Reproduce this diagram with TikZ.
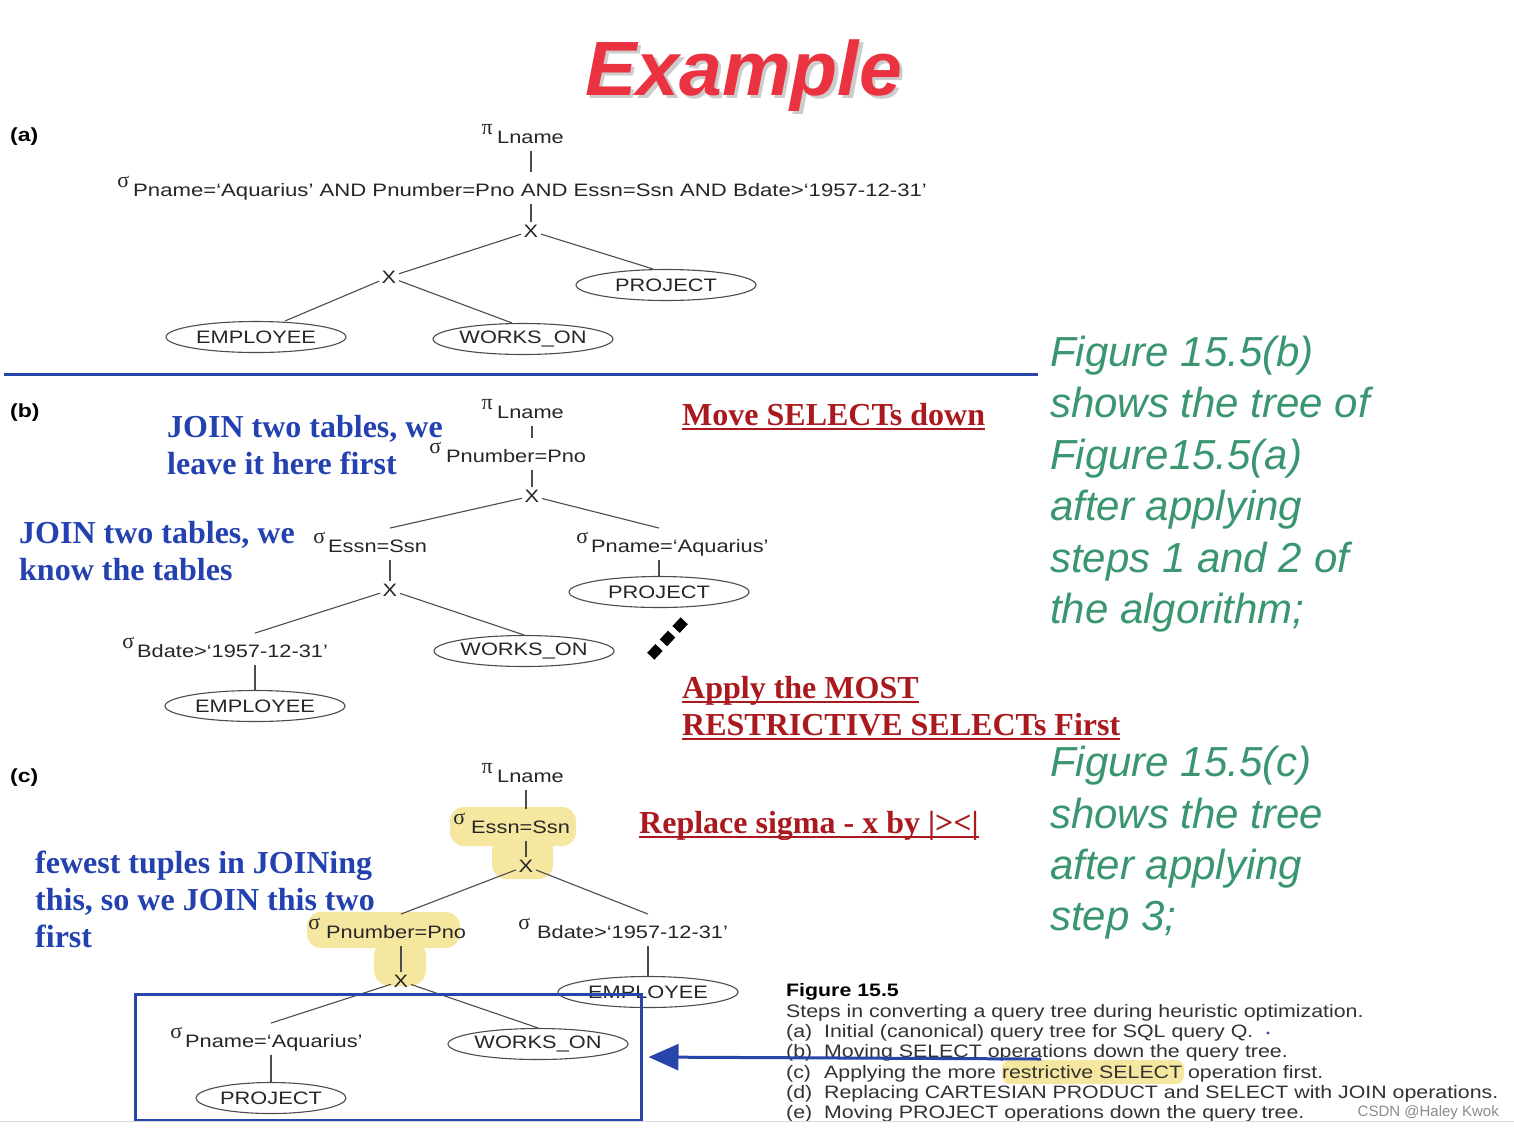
\documentclass[tikz,border=0pt]{standalone}
\usepackage{fontspec}
\usetikzlibrary{arrows.meta,shapes.geometric,calc}
\newfontfamily\treefont[FakeStretch=1.21]{Liberation Sans}
\newfontfamily\longfont[FakeStretch=1.23]{Liberation Sans}
\newfontfamily\capfont[FakeStretch=1.185]{Liberation Sans}
\newfontfamily\arialf{Liberation Sans}
\newfontfamily\timesf{Liberation Serif}
\newcommand\symfnt{\timesf\fontsize{22}{22}\selectfont}
\newcommand\sgm[1]{\llap{\raisebox{9pt}{\symfnt σ}\hspace{#1}}}
\newcommand\pim[1]{\llap{\raisebox{9pt}{\symfnt π}\hspace{#1}}}
\definecolor{titlered}{RGB}{235,50,65}
\definecolor{noteblue}{RGB}{35,65,175}
\definecolor{notered}{RGB}{170,25,30}
\definecolor{figgreen}{RGB}{58,150,112}
\definecolor{lineblue}{RGB}{40,70,170}
\definecolor{hilite}{RGB}{246,231,160}
\definecolor{captext}{RGB}{50,50,50}
\begin{document}
\begin{tikzpicture}[x=1pt,y=-1pt,
  treefnt/.style={font=\treefont\fontsize{18}{20}\selectfont, text=black!85},
  tree/.style={treefnt, inner xsep=0pt, inner ysep=4pt, text depth=3pt, anchor=base west},
  xop/.style={treefnt, inner sep=2.5pt},
  tbl/.style={treefnt, ellipse, draw=black!70, line width=1.1pt, minimum width=180pt, minimum height=31pt, inner sep=0pt},
  edge/.style={draw=black!70, line width=1.1pt},
  partlab/.style={font=\treefont\bfseries\fontsize{19}{20}\selectfont, anchor=base west, inner sep=0pt},
  bluenote/.style={font=\timesf\bfseries\fontsize{32}{37}\selectfont, text=noteblue, anchor=base west, inner sep=0pt},
  rednote/.style={font=\timesf\bfseries\fontsize{32}{37}\selectfont, text=notered, anchor=base west, inner sep=0pt},
  redline/.style={draw=notered, line width=2.2pt},
  greennote/.style={font=\arialf\itshape\fontsize{42}{50}\selectfont, text=figgreen, anchor=base west, inner sep=0pt},
  captxt/.style={font=\capfont\fontsize{18}{20}\selectfont, text=captext, anchor=base west, inner sep=0pt},
  hl/.style={fill=hilite, rounded corners=14pt},
  bluebar/.style={draw=lineblue, line width=3pt}
]
\useasboundingbox[fill=white] (0,0) rectangle (1514,1128);

% ---------- title ----------
\node[font=\arialf\bfseries\itshape\fontsize{77}{80}\selectfont, text=black, opacity=0.2, anchor=base west, inner sep=0pt] (titleshadow) at (588.5,98.5) {Example};
\node[font=\arialf\bfseries\itshape\fontsize{77}{80}\selectfont, text=titlered, anchor=base west, inner sep=0pt] (title) at (585,95) {Example};

% ---------- highlights ----------
\fill[hl] (450,807) rectangle (576,846);
\fill[hl] (492,836) rectangle (553,879);
\fill[hl] (307,912) rectangle (460,948);
\fill[hl, rounded corners=16pt] (374,940) rectangle (426,986);
\fill[hilite, rounded corners=8pt] (1002,1060) rectangle (1184,1084);

% ---------- (a) ----------
\node[partlab] (la) at (10,141) {(a)};
\node[tree] (pia) at (497,143.5) {\pim{4.5pt}Lname};
\node[tree, font=\longfont\fontsize{18}{20}\selectfont] (siga) at (133,196.5) {\sgm{4pt}Pname=‘Aquarius’ AND Pnumber=Pno AND Essn=Ssn AND Bdate>‘1957-12-31’};
\node[xop] (xa1) at (531,231) {X};
\node[xop] (xa2) at (389,277) {X};
\node[tbl] (proja) at (666,285) {PROJECT};
\node[tbl] (empa) at (256,337) {EMPLOYEE};
\node[tbl] (worksa) at (523,339) {WORKS\_ON};
\draw[edge] (pia.south -| xa1) -- (siga.north -| xa1);
\draw[edge] (siga.south -| xa1) -- (xa1);
\draw[edge] (xa1) -- (xa2);
\draw[edge] (xa1) -- ([xshift=-13pt]proja.north);
\draw[edge] (xa2) -- ([xshift=29pt]empa.north);
\draw[edge] (xa2) -- ([xshift=-11pt]worksa.north);

% divider
\coordinate (divL) at (4,374);
\coordinate (divR) at (1038,374);
\draw[bluebar] (divL) -- (divR);

% ---------- (b) ----------
\node[partlab] (lb) at (10,417) {(b)};
\node[tree] (pib) at (497,418.5) {\pim{4.5pt}Lname};
\node[tree] (sPnum) at (446,462.5) {\sgm{5pt}Pnumber=Pno};
\node[xop] (xb1) at (532,496) {X};
\node[tree] (sEssn) at (328,552.5) {\sgm{3pt}Essn=Ssn};
\node[tree] (sPname) at (591,552.5) {\sgm{3pt}Pname=‘Aquarius’};
\node[xop] (xb2) at (390,590) {X};
\node[tbl] (projb) at (659,592) {PROJECT};
\node[tree] (sBdate) at (137,657.5) {\sgm{3pt}Bdate>‘1957-12-31’};
\node[tbl] (worksb) at (524,651) {WORKS\_ON};
\node[tbl] (empb) at (255,706) {EMPLOYEE};
\draw[edge] (pib.south -| xb1) -- (sPnum.north -| xb1);
\draw[edge] (sPnum.south -| xb1) -- (xb1);
\draw[edge] (xb1) -- (xb2 |- sEssn.north);
\draw[edge] (xb1) -- (projb |- sPname.north);
\draw[edge] (sEssn.south -| xb2) -- (xb2);
\draw[edge] (sPname.south -| projb) -- (projb);
\draw[edge] (xb2) -- (empb |- sBdate.north);
\draw[edge] (xb2) -- (worksb.north);
\draw[edge] (sBdate.south -| empb) -- (empb);

% dotted diamonds
\coordinate (dotA) at (650.8,656.2);
\coordinate (dotB) at (684.2,620.8);
\draw[line width=10pt, dash pattern=on 12pt off 6.4pt] (dotA) -- (dotB);

% ---------- (c) ----------
\node[partlab] (lc) at (10,782) {(c)};
\node[tree] (pic) at (497,782.5) {\pim{4.5pt}Lname};
\node[tree] (sEssnc) at (471,833.5) {\sgm{6pt}Essn=Ssn};
\node[xop] (xc1) at (526,866) {X};
\node[tree] (sPnumc) at (326,938.5) {\sgm{6pt}Pnumber=Pno};
\node[tree] (sBdatec) at (537,938.5) {\sgm{7pt}Bdate>‘1957-12-31’};
\node[xop] (xc2) at (401,981) {X};
\node[tbl] (empc) at (648,992) {EMPLOYEE};
\node[tree] (sPnamec) at (185,1047.5) {\sgm{3pt}Pname=‘Aquarius’};
\node[tbl] (worksc) at (538,1044) {WORKS\_ON};
\node[tbl, minimum width=150pt] (projc) at (271,1098) {PROJECT};
\draw[edge] (pic.south -| xc1) -- (sEssnc.north -| xc1);
\draw[edge] (sEssnc.south -| xc1) -- (xc1);
\draw[edge] (xc1) -- (xc2 |- sPnumc.north);
\draw[edge] (xc1) -- (empc |- sBdatec.north);
\draw[edge] (sPnumc.south -| xc2) -- (xc2);
\draw[edge] (sBdatec.south -| empc) -- (empc);
\draw[edge] (xc2) -- (projc |- sPnamec.north);
\draw[edge] (xc2) -- (worksc.north);
\draw[edge] (sPnamec.south -| projc) -- (projc);

% ---------- blue notes ----------
\node[bluenote] (nb1) at (167,437) {JOIN two tables, we};
\node[bluenote] (nb2) at (167,474) {leave it here first};
\node[bluenote] (nb3) at (19,543) {JOIN two tables, we};
\node[bluenote] (nb4) at (19,580) {know the tables};
\node[bluenote] (nc1) at (35,873) {fewest tuples in JOINing};
\node[bluenote] (nc2) at (35,910) {this, so we JOIN this two};
\node[bluenote] (nc3) at (35,947) {first};

% ---------- red notes ----------
\node[rednote] (r1) at (682,425) {Move SELECTs down};
\node[rednote] (r2) at (682,698) {Apply the MOST};
\node[rednote] (r3) at (682,735) {RESTRICTIVE SELECTs First};
\node[rednote] (r4) at (639,833) {Replace sigma - x by |><|};
\foreach \n in {r1,r2,r3,r4}
  \draw[redline] ([yshift=-4pt]\n.base west) -- ([yshift=-4pt]\n.base east);

% ---------- green notes ----------
\node[greennote] (g1) at (1050,366) {Figure 15.5(b)};
\node[greennote] (g2) at (1050,417) {shows the tree of};
\node[greennote] (g3) at (1050,469) {Figure15.5(a)};
\node[greennote] (g4) at (1050,520) {after applying};
\node[greennote] (g5) at (1050,572) {steps 1 and 2 of};
\node[greennote] (g6) at (1050,623) {the algorithm;};
\node[greennote] (g7) at (1050,776) {Figure 15.5(c)};
\node[greennote] (g8) at (1050,828) {shows the tree};
\node[greennote] (g9) at (1050,879) {after applying};
\node[greennote] (g10) at (1050,930) {step 3;};

% ---------- caption ----------
\node[captxt, font=\capfont\bfseries\fontsize{18}{20}\selectfont, text=black] (fig) at (786,996) {Figure 15.5};
\node[captxt] (c0) at (786,1017) {Steps in converting a query tree during heuristic optimization.};
\node[captxt] (ca) at (786,1037) {\makebox[38pt][l]{(a)}Initial (canonical) query tree for SQL query Q.};
\node[captxt] (cb) at (786,1057) {\makebox[38pt][l]{(b)}Moving SELECT operations down the query tree.};
\node[captxt] (cc) at (786,1078) {\makebox[38pt][l]{(c)}Applying the more restrictive SELECT operation first.};
\node[captxt] (cd) at (786,1098) {\makebox[38pt][l]{(d)}Replacing CARTESIAN PRODUCT and SELECT with JOIN operations.};
\node[captxt] (ce) at (786,1118) {\makebox[38pt][l]{(e)}Moving PROJECT operations down the query tree.};
\fill[lineblue] (1268,1033) circle (1.6pt);
\node[font=\arialf\fontsize{15}{17}\selectfont, text=black!45, anchor=base east, inner sep=0pt] (csdn) at (1499,1116) {CSDN @Haley Kwok};

% ---------- box and arrow ----------
\node[draw=lineblue, line width=3pt, minimum width=506pt, minimum height=126pt, inner sep=0pt] (box) at (388,1057) {};
\coordinate (arrS) at (1041,1059);
\draw[draw=lineblue, fill=lineblue, line width=3pt, -{Triangle[length=30pt,width=26pt]}, shorten >=6pt] (arrS) -- (box.east |- 0,1057);

% bottom rule
\coordinate (botL) at (0,1121.5);
\coordinate (botR) at (1514,1121.5);
\draw[black!15, line width=1pt] (botL) -- (botR);
\end{tikzpicture}
\end{document}
